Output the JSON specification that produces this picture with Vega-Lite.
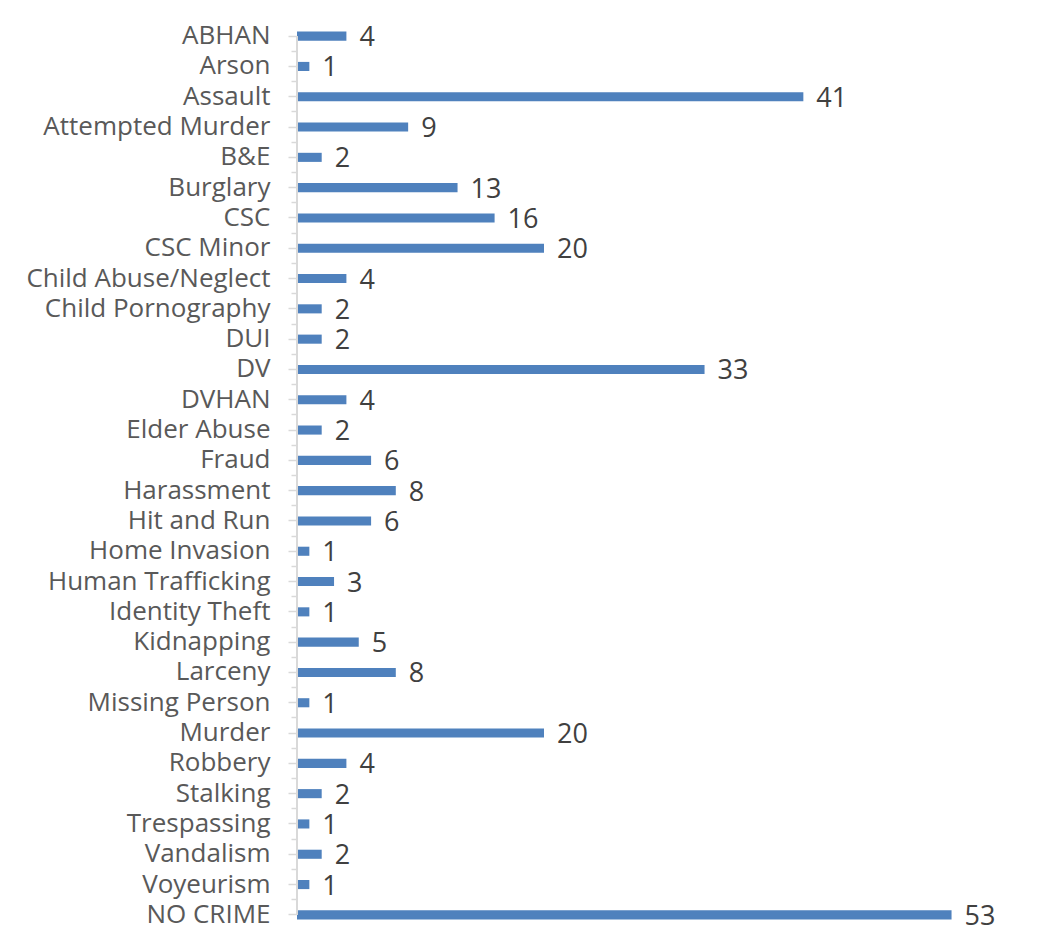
{
  "$schema": "https://vega.github.io/schema/vega-lite/v6.json",
  "width": 741,
  "height": 909,
  "autosize": {"type": "none"},
  "padding": {"left": 297, "top": 21, "right": 22, "bottom": 8},
  "background": "white",
  "config": {"view": {"stroke": null}, "font": "Open Sans"},
  "data": {"values": [
    {"crime": "ABHAN", "count": 4},
    {"crime": "Arson", "count": 1},
    {"crime": "Assault", "count": 41},
    {"crime": "Attempted Murder", "count": 9},
    {"crime": "B&E", "count": 2},
    {"crime": "Burglary", "count": 13},
    {"crime": "CSC", "count": 16},
    {"crime": "CSC Minor", "count": 20},
    {"crime": "Child Abuse/Neglect", "count": 4},
    {"crime": "Child Pornography", "count": 2},
    {"crime": "DUI", "count": 2},
    {"crime": "DV", "count": 33},
    {"crime": "DVHAN", "count": 4},
    {"crime": "Elder Abuse", "count": 2},
    {"crime": "Fraud", "count": 6},
    {"crime": "Harassment", "count": 8},
    {"crime": "Hit and Run", "count": 6},
    {"crime": "Home Invasion", "count": 1},
    {"crime": "Human Trafficking", "count": 3},
    {"crime": "Identity Theft", "count": 1},
    {"crime": "Kidnapping", "count": 5},
    {"crime": "Larceny", "count": 8},
    {"crime": "Missing Person", "count": 1},
    {"crime": "Murder", "count": 20},
    {"crime": "Robbery", "count": 4},
    {"crime": "Stalking", "count": 2},
    {"crime": "Trespassing", "count": 1},
    {"crime": "Vandalism", "count": 2},
    {"crime": "Voyeurism", "count": 1},
    {"crime": "NO CRIME", "count": 53}
  ]},
  "layer": [
    {
      "mark": {"type": "bar", "color": "#4F81BD", "height": {"band": 0.3}},
      "encoding": {
        "y": {"field": "crime", "type": "nominal", "sort": null,
              "scale": {"paddingInner": 0, "paddingOuter": 0},
              "axis": {"title": null, "domain": false, "tickSize": 9, "tickColor": "#d9d9d9", "tickWidth": 1.5,
                       "labelFont": "Open Sans", "labelFontSize": 26, "labelColor": "#595959", "labelPadding": 18, "labelLimit": 400}},
        "x": {"field": "count", "type": "quantitative", "scale": {"domain": [0, 60]}, "axis": null}
      }
    },
    {
      "mark": {"type": "text", "align": "left", "baseline": "middle", "dx": 13, "dy": 2, "fontSize": 27, "color": "#404040", "font": "Open Sans"},
      "encoding": {
        "y": {"field": "crime", "type": "nominal", "sort": null, "axis": null},
        "x": {"field": "count", "type": "quantitative"},
        "text": {"field": "count", "type": "quantitative"}
      }
    },
    {
      "mark": {"type": "rule", "color": "#d9d9d9", "strokeWidth": 2},
      "encoding": {
        "y": {"datum": "ABHAN", "type": "nominal",
              "axis": {"orient": "left", "title": null, "labels": false, "domain": false, "tickSize": 6, "tickColor": "#d9d9d9", "tickWidth": 1.5, "bandPosition": 0,
                       "values": ["Arson", "Assault", "Attempted Murder", "B&E", "Burglary", "CSC", "CSC Minor", "Child Abuse/Neglect", "Child Pornography", "DUI", "DV", "DVHAN", "Elder Abuse", "Fraud", "Harassment", "Hit and Run", "Home Invasion", "Human Trafficking", "Identity Theft", "Kidnapping", "Larceny", "Missing Person", "Murder", "Robbery", "Stalking", "Trespassing", "Vandalism", "Voyeurism", "NO CRIME"]}},
        "y2": {"datum": "NO CRIME"},
        "x": {"datum": 0, "type": "quantitative"}
      }
    }
  ],
  "resolve": {"axis": {"y": "independent"}}
}
